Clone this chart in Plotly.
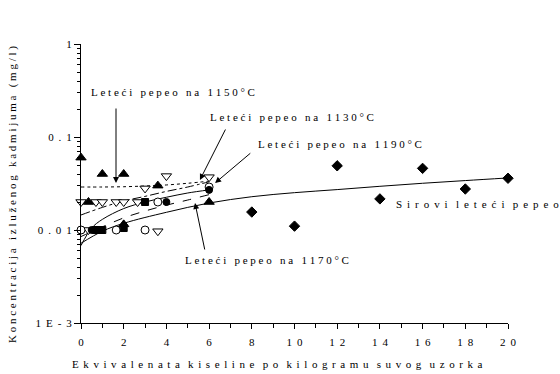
import math
import plotly.graph_objects as go

# ---------------- data ----------------
tri_up_x = [0, 0.35, 1, 2, 3.6, 6, 2]
tri_up_y = [0.06, 0.02, 0.04, 0.04, 0.03, 0.02, 0.0115]

tri_dn_x = [0, 0.7, 1, 1.65, 2, 2.65, 3, 4, 6, 0.35, 3.6]
tri_dn_y = [0.02, 0.02, 0.02, 0.02, 0.02, 0.02, 0.028, 0.038, 0.037, 0.01, 0.0097]

circ_open_x = [0, 1.65, 3, 3.6, 6]
circ_open_y = [0.01, 0.01, 0.01, 0.02, 0.029]

square_x = [0.7, 1.0, 2, 3]
square_y = [0.01, 0.01, 0.0105, 0.02]

circ_fill_x = [0.5, 4, 6]
circ_fill_y = [0.01, 0.02, 0.027]

raw_x = [8, 10, 12, 14, 16, 18, 20]
raw_y = [0.0156, 0.011, 0.049, 0.0216, 0.046, 0.0276, 0.036]

# fitted curves
fit_raw_x = [0, 1, 2, 4, 6, 8, 10, 12, 14, 16, 18, 20]
fit_raw_y = [0.0072, 0.0097, 0.0118, 0.0155, 0.0195, 0.0228, 0.0252, 0.0272, 0.0295, 0.0318, 0.034, 0.0363]

fit_solid_x = [0, 0.5, 1, 2, 3, 4, 5, 6]
fit_solid_y = [0.0068, 0.0105, 0.013, 0.017, 0.02, 0.0225, 0.025, 0.027]

fit_dash_x = [0, 1, 2, 3, 4, 5, 6]
fit_dash_y = [0.0085, 0.0108, 0.0135, 0.016, 0.0185, 0.021, 0.024]

fit_dashdot_x = [0, 1, 2, 3, 4, 5, 6]
fit_dashdot_y = [0.0145, 0.0175, 0.0205, 0.023, 0.026, 0.029, 0.033]

fit_dot_x = [0, 1, 2, 3, 4, 5, 6]
fit_dot_y = [0.029, 0.029, 0.0292, 0.0297, 0.0305, 0.0318, 0.0335]

x_ticks = [0, 2, 4, 6, 8, 10, 12, 14, 16, 18, 20]
y_ticks = [0.001, 0.01, 0.1, 1]
y_tick_labels = ["1E-3", "0.01", "0.1", "1"]

x_title = "Ekvivalenata kiseline po kilogramu suvog uzorka"
y_title = "Koncentracija izluženog kadmijuma (mg/l)"

labels = {
    "1150": "Leteći pepeo na 1150°C",
    "1130": "Leteći pepeo na 1130°C",
    "1190": "Leteći pepeo na 1190°C",
    "1170": "Leteći pepeo na 1170°C",
    "raw": "Sirovi leteći pepeo",
}

NB = "\u00a0"
TH = "\u2009"
HR = "\u200a"


def spaced(s, letter=NB, word=NB * 3):
    words = s.split(" ")
    return word.join(letter.join(list(w)) for w in words)


FONT = "Liberation Serif, Times New Roman, serif"

fig = go.Figure()

for xs, ys, dash in [
    (fit_raw_x, fit_raw_y, "solid"),
    (fit_solid_x, fit_solid_y, "solid"),
    (fit_dash_x, fit_dash_y, "dash"),
    (fit_dashdot_x, fit_dashdot_y, "dashdot"),
    (fit_dot_x, fit_dot_y, "dot"),
]:
    fig.add_trace(go.Scatter(x=xs, y=ys, mode="lines", line_shape="spline",
                             line=dict(color="black", width=1, dash=dash),
                             showlegend=False, hoverinfo="skip"))


def add_markers(xs, ys, symbol, size, fill):
    fig.add_trace(go.Scatter(
        x=xs, y=ys, mode="markers", showlegend=False, cliponaxis=False,
        marker=dict(symbol=symbol, size=size, color=fill,
                    line=dict(color="black", width=1))))


add_markers(tri_dn_x, tri_dn_y, "triangle-down", 9, "white")
add_markers(circ_open_x, circ_open_y, "circle", 8, "white")
add_markers(square_x, square_y, "square", 7, "black")
add_markers(circ_fill_x, circ_fill_y, "circle", 7, "black")
add_markers(tri_up_x, tri_up_y, "triangle-up", 9, "black")
add_markers(raw_x, raw_y, "diamond", 8, "black")

L = math.log10

# arrows (head at x,y ; tail at ax,ay) in data coords
arrows = [
    (1.64, L(0.032), 1.64, -(107 - 44) / 93),
    (5.57, L(0.0345), 6.8, -(128 - 44) / 93),
    (6.28, L(0.032), 8.0, -(152 - 44) / 93),
    (5.34, -(203 - 44) / 93, 5.81, -(251 - 44) / 93),
]
for hx, hy, tx, ty in arrows:
    fig.add_annotation(x=hx, y=hy, ax=tx, ay=ty, xref="x", yref="y",
                       axref="x", ayref="y", text="", showarrow=True,
                       arrowhead=2, arrowsize=1.2, arrowwidth=1,
                       arrowcolor="black")


def px_to_data(px, py):
    return (px - 81) / 21.35, -(py - 44) / 93


text_pos = [
    ("1150", 89, 92, NB, NB * 3),
    ("1130", 208, 117, NB, NB * 3),
    ("1190", 256, 144, NB, NB * 3),
    ("1170", 183, 260, NB, NB * 3),
    ("raw", 394, 204, NB + TH, NB * 3),
]
for key, px, py, lg, wg in text_pos:
    dx, dy = px_to_data(px, py)
    fig.add_annotation(x=dx, y=dy, xref="x", yref="y",
                       text=spaced(labels[key], lg, wg),
                       showarrow=False, xanchor="left", yanchor="middle",
                       font=dict(family=FONT, size=11, color="black"))

# axis titles
fig.add_annotation(x=(277 - 81) / 427, y=(323 - 364) / 279, xref="paper", yref="paper",
                   text=spaced(x_title, NB + HR + HR, NB * 3), showarrow=False,
                   xanchor="center", yanchor="middle",
                   font=dict(family=FONT, size=11, color="black"))
fig.add_annotation(x=(12 - 81) / 427, y=(323 - 195) / 279, xref="paper", yref="paper",
                   text=spaced(y_title), showarrow=False, textangle=-90,
                   xanchor="center", yanchor="middle",
                   font=dict(family=FONT, size=11, color="black"))

fig.update_xaxes(range=[0, 20], tickvals=x_ticks,
                 ticktext=[(NB + TH).join(list(str(v))) for v in x_ticks],
                 ticks="outside", ticklen=5, tickcolor="black",
                 ticklabelstandoff=4,
                 minor=dict(dtick=1, ticks="outside", ticklen=4, tickcolor="black"),
                 showline=True, linecolor="black", linewidth=1,
                 showgrid=False, zeroline=False,
                 tickfont=dict(family=FONT, size=11, color="black"))
fig.update_yaxes(type="log", range=[-3, 0], tickvals=y_ticks,
                 ticktext=[(NB + TH).join(list(t)) for t in y_tick_labels],
                 ticks="outside", ticklen=6, tickcolor="black",
                 minor=dict(dtick="D1", ticks="outside", ticklen=3, tickcolor="black"),
                 showline=True, linecolor="black", linewidth=1,
                 showgrid=False, zeroline=False,
                 tickfont=dict(family=FONT, size=11, color="black"))

fig.update_layout(width=560, height=374,
                  margin=dict(l=81, r=52, t=44, b=51),
                  paper_bgcolor="white", plot_bgcolor="white",
                  showlegend=False)

fig.write_html("out.html")
